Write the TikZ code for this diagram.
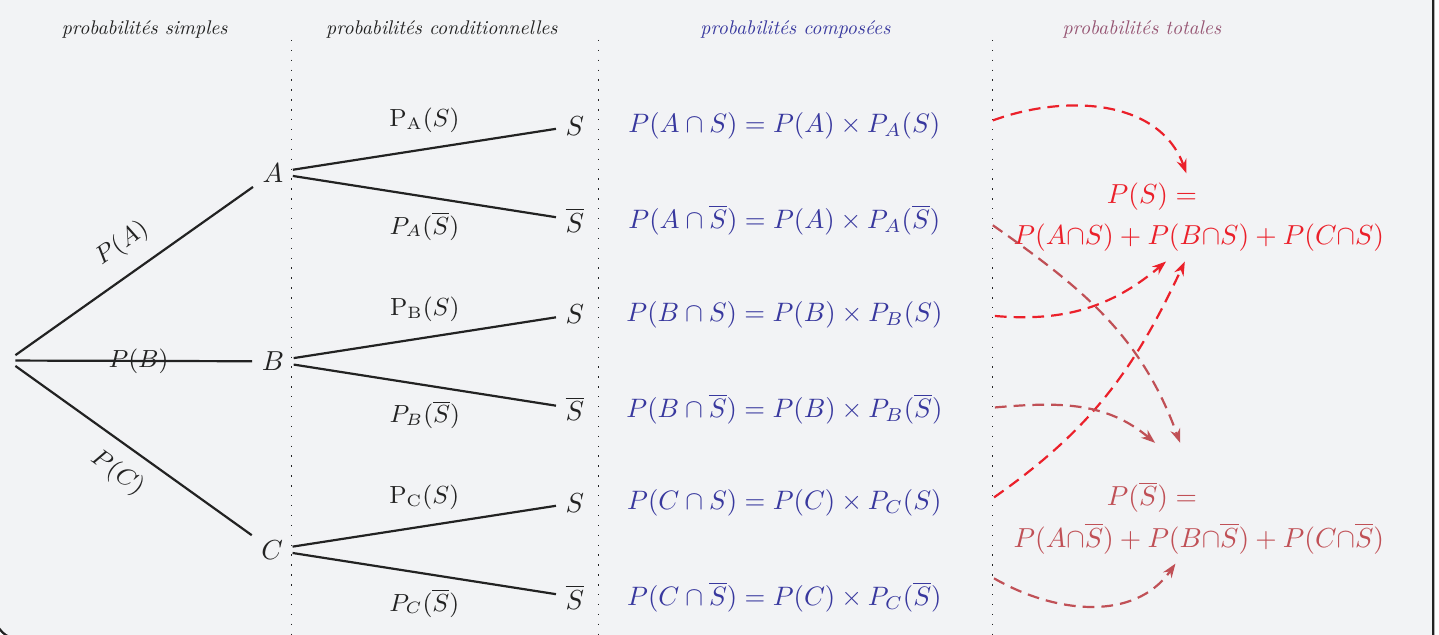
\documentclass[tikz,border=0pt]{standalone}
\usepackage{amsmath}
\usepackage{amssymb}
\usepackage{xcolor}
\usepackage{tikz}
\usetikzlibrary{arrows.meta,positioning,calc}
\definecolor{ink}{RGB}{34,34,34}
\definecolor{pagebg}{RGB}{242,243,245}
\definecolor{compblue}{RGB}{56,56,158}
\definecolor{totmauve}{RGB}{150,85,115}
\definecolor{totred}{RGB}{235,32,42}
\definecolor{totrose}{RGB}{192,80,86}
\tikzset{
  ev/.style={text=ink,inner sep=3.3pt},
  brn/.style={draw=ink,thick},
  lbl/.style={font=\small,text=ink,inner sep=1.5pt},
  hdr/.style={font=\itshape,text=ink,scale=0.72},
  cmp/.style={text=compblue,scale=0.97},
  tot/.style={align=center,font=\fontsize{10}{15}\selectfont},
  vsep/.style={draw=ink,line width=0.5pt,dash pattern=on 0.5pt off 3.1pt},
  flowS/.style={-{Stealth[length=1.8mm,width=1.3mm]},line width=0.8pt,
                dash pattern=on 1.5mm off 0.9mm,draw=totred},
  flowSb/.style={flowS,draw=totrose},
}

\begin{document}
\begin{tikzpicture}[x=1mm,y=1mm]

  % --- cadre et fond ------------------------------------------------------
  \useasboundingbox (0,0) rectangle (184,81.1);
  \fill[pagebg] (-0.6,85) -- (183.25,85) -- (183.25,-0.6) -- (2.4,-0.6)
        arc[start angle=270,end angle=180,radius=3] -- cycle;
  \draw[ink,line width=0.8pt] (183.25,85) -- (183.25,-0.6) -- (2.4,-0.6)
        arc[start angle=270,end angle=180,radius=3] -- (-0.6,85);

  % --- en-tetes -----------------------------------------------------------
  \node[hdr] (hsim)  at (18.5,77.3)  {probabilités simples};
  \node[hdr] (hcond) at (56.5,77.3)  {probabilités conditionnelles};
  \node[hdr,text=compblue] (hcomp) at (101.7,77.3) {probabilités composées};
  \node[hdr,text=totmauve] (htot)  at (146.0,77.3) {probabilités totales};

  % --- separateurs --------------------------------------------------------
  \draw[vsep] (37.3,76) -- (37.3,0);
  \draw[vsep] (76.5,76) -- (76.5,0);
  \draw[vsep] (126.9,76) -- (126.9,0);

  % --- arbre --------------------------------------------------------------
  \node[ev,inner sep=0.9mm] (root) at (1.0,35.0) {};
  \node[ev] (A) at (34.9,59.0) {$A$};
  \node[ev] (B) at (34.9,34.9) {$B$};
  \node[ev] (C) at (34.8,10.8) {$C$};

  \node[ev] (as)  at (73.5,65.0)  {$S$};
  \node[ev] (asb) at (73.5,52.95) {$\overline{S}$};
  \node[ev] (bs)  at (73.5,40.9)  {$S$};
  \node[ev] (bsb) at (73.5,28.85) {$\overline{S}$};
  \node[ev] (cs)  at (73.5,16.8)  {$S$};
  \node[ev] (csb) at (73.5,4.75)  {$\overline{S}$};

  \draw[brn] (root) -- (A) node[lbl,pos=0.52,above=1.5mm,sloped]{$P(A)$};
  \draw[brn] (root) -- (B) node[lbl,pos=0.52]{$P(B)$};
  \draw[brn] (root) -- (C) node[lbl,pos=0.5,below=1.3mm,sloped]{$P(C)$};

  \draw[brn] (A) -- (as)  node[lbl,midway,above=1.4mm]{$\mathrm{P}_{\mathrm{A}}(S)$};
  \draw[brn] (A) -- (asb) node[lbl,midway,below=1.3mm]{$P_A(\overline{S})$};
  \draw[brn] (B) -- (bs)  node[lbl,midway,above=1.4mm]{$\mathrm{P}_{\mathrm{B}}(S)$};
  \draw[brn] (B) -- (bsb) node[lbl,midway,below=1.3mm]{$P_B(\overline{S})$};
  \draw[brn] (C) -- (cs)  node[lbl,midway,above=1.4mm]{$\mathrm{P}_{\mathrm{C}}(S)$};
  \draw[brn] (C) -- (csb) node[lbl,midway,below=1.3mm]{$P_C(\overline{S})$};

  % --- probabilites composees ---------------------------------------------
  \node[cmp] (pas)  at (100.3,65.0)  {$P(A\cap S) = P(A)\times P_A(S)$};
  \node[cmp] (pasb) at (100.3,52.95) {$P(A\cap\overline{S}) = P(A)\times P_A(\overline{S})$};
  \node[cmp] (pbs)  at (100.3,40.9)  {$P(B\cap S) = P(B)\times P_B(S)$};
  \node[cmp] (pbsb) at (100.3,28.85) {$P(B\cap\overline{S}) = P(B)\times P_B(\overline{S})$};
  \node[cmp] (pcs)  at (100.3,16.8)  {$P(C\cap S) = P(C)\times P_C(S)$};
  \node[cmp] (pcsb) at (100.3,4.75)  {$P(C\cap\overline{S}) = P(C)\times P_C(\overline{S})$};

  % --- probabilites totales -----------------------------------------------
  \node[tot,text=totred] (tots) at (153.3,53.3)
        {$P(S) =$\hspace*{12mm}\\ $P(A{\cap}S)+P(B{\cap}S)+P(C{\cap}S)$};
  \node[tot,text=totrose] (totsb) at (153.3,14.9)
        {$P(\overline{S}) =$\hspace*{12mm}\\
         $P(A{\cap}\overline{S})+P(B{\cap}\overline{S})+P(C{\cap}\overline{S})$};

  % --- renvois vers les totaux --------------------------------------------
  \draw[flowS] ([xshift=5.5mm,yshift=0.7mm]pas.east) to[out=20,in=110]
        ([xshift=-1.6mm]tots.north);
  \draw[flowS] ([xshift=5.5mm,yshift=-0.2mm]pbs.east) to[out=-5,in=220]
        ([xshift=-4.2mm]tots.south);
  \draw[flowS] ([xshift=5.5mm,yshift=0.7mm]pcs.east) to[out=35,in=245]
        ([xshift=-1.8mm]tots.south);
  \draw[flowSb] ([xshift=5.5mm,yshift=-0.65mm]pasb.east) to[out=-35,in=110]
        ([xshift=-2.4mm,yshift=3.7mm]totsb.north);
  \draw[flowSb] ([xshift=5.5mm,yshift=0.15mm]pbsb.east) to[out=5,in=140]
        ([xshift=-5.6mm,yshift=3.7mm]totsb.north);
  \draw[flowSb] ([xshift=5.5mm,yshift=2.4mm]pcsb.east) to[out=-30,in=235]
        ([xshift=-3mm]totsb.south);

\end{tikzpicture}
\end{document}
